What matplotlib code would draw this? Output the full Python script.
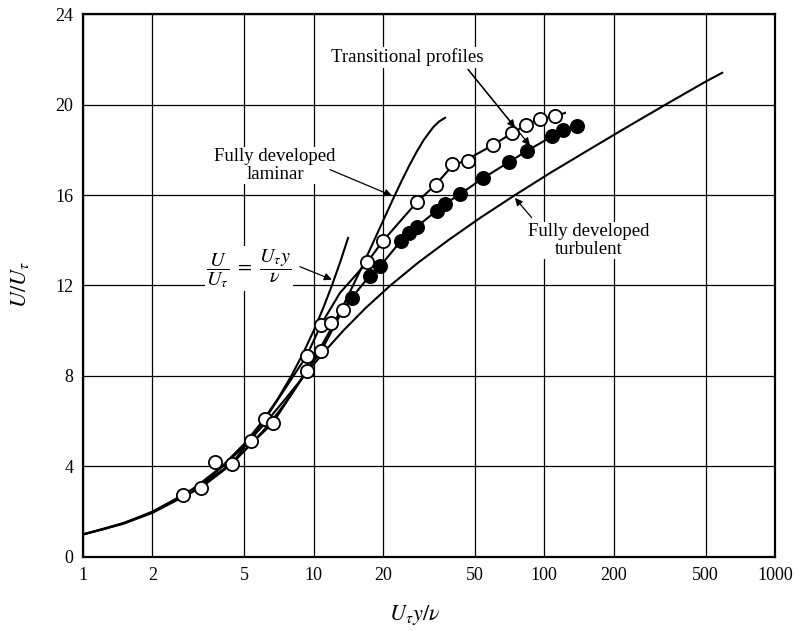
import numpy as np
import matplotlib.pyplot as plt
from matplotlib.ticker import NullLocator

plt.rcParams['font.family'] = ['Liberation Serif', 'DejaVu Serif']
plt.rcParams['mathtext.fontset'] = 'stix'

# axis ticks
x_ticks = [1, 2, 5, 10, 20, 50, 100, 200, 500, 1000]
y_ticks = [0, 4, 8, 12, 16, 20, 24]

# U/U_tau = U_tau y / nu
visc_x = [1, 1.25, 1.5, 1.75, 2, 2.5, 3, 4, 5, 6, 7, 8, 9, 10, 11, 12, 13, 14.1]
visc_y = [1, 1.25, 1.5, 1.75, 2, 2.5, 3, 4, 5, 6, 7, 8, 9, 10, 11, 12, 13, 14.1]

# fully developed laminar
lam_x = [1, 1.5, 2, 3, 4, 5, 6, 7, 8, 9, 10, 12, 14, 16, 18, 20, 22, 24, 26, 28, 30, 33, 35, 37.1]
lam_y = [0.99, 1.47, 1.95, 2.88, 3.79, 4.68, 5.54, 6.37, 7.18, 7.96, 8.72, 10.15, 11.48,
         12.71, 13.84, 14.86, 15.78, 16.6, 17.31, 17.92, 18.43, 19.0, 19.25, 19.41]

# fully developed turbulent
turb_x = [1.0, 1.5, 2.0, 3.01, 4.04, 5.12, 6.27, 7.56, 9.08, 10.97, 13.43, 16.78, 21.5,
          28.3, 38.3, 52.9, 74.7, 107, 156, 228, 336, 498, 590]
turb_y = [1, 1.5, 2, 3, 4, 5, 6, 7, 8, 9, 10, 11, 12, 13, 14, 15, 16, 17, 18, 19, 20, 21, 21.4]

# transitional profiles, measured points
open_x = [2.72, 3.25, 3.75, 4.41, 5.35, 6.15, 6.64, 9.33, 9.33, 10.8, 10.8, 11.85, 13.4,
          17.1, 19.9, 28.0, 33.8, 39.6, 46.8, 59.7, 72.1, 83.5, 95.7, 111]
open_y = [2.74, 3.07, 4.22, 4.10, 5.13, 6.09, 5.91, 8.89, 8.23, 9.12, 10.27, 10.34, 10.93,
          13.04, 13.95, 15.68, 16.46, 17.35, 17.52, 18.2, 18.72, 19.1, 19.38, 19.47]
fill_x = [14.6, 17.5, 19.4, 23.8, 26.0, 28.0, 34.1, 37.0, 43.3, 54.0, 70.1, 84.0, 108.5, 121, 138]
fill_y = [11.45, 12.43, 12.85, 13.95, 14.3, 14.6, 15.3, 15.6, 16.05, 16.73, 17.45, 17.95,
          18.6, 18.88, 19.05]

# faired curves through the transitional points
upper_x = [2.72, 4.41, 6.15, 9.33, 10.8, 13.0, 17.1, 19.9, 28.0, 33.8, 39.6, 46.8, 59.7,
           72.1, 83.5, 95.7, 111, 123]
upper_y = [2.74, 4.10, 6.09, 8.89, 10.3, 11.67, 13.04, 13.95, 15.68, 16.46, 17.25, 17.6,
           18.2, 18.72, 19.1, 19.38, 19.47, 19.63]
lower_x = [3.25, 4.41, 5.35, 6.64, 9.33, 10.8, 11.85, 13.4, 14.6, 17.5, 19.4, 23.8, 26.0,
           28.0, 34.1, 37.0, 43.3, 54.0, 70.1, 84.0, 108.5, 121, 138]
lower_y = [3.07, 4.10, 5.0, 5.91, 8.23, 9.12, 9.9, 10.93, 11.45, 12.43, 12.85, 13.95, 14.3,
           14.6, 15.3, 15.6, 16.05, 16.73, 17.45, 17.95, 18.6, 18.88, 19.05]

fig = plt.figure(figsize=(7.97, 6.31), dpi=100)
ax = fig.add_axes([0.1041, 0.1173, 0.8683, 0.8605])
ax.set_xscale('log')
ax.set_xlim(1, 1000)
ax.set_ylim(0, 24)
ax.set_xticks(x_ticks)
ax.set_xticklabels([str(v) for v in x_ticks])
ax.xaxis.set_minor_locator(NullLocator())
ax.set_yticks(y_ticks)
ax.tick_params(length=0, labelsize=13, pad=7)
ax.set_axisbelow(True)
ax.grid(True, color='black', linewidth=0.9)
for s in ax.spines.values():
    s.set_linewidth(1.6)

lw = 1.5
ax.plot(visc_x, visc_y, color='black', lw=lw, zorder=2)
ax.plot(lam_x, lam_y, color='black', lw=lw, zorder=2)
ax.plot(turb_x, turb_y, color='black', lw=lw, zorder=2)
ax.plot(upper_x, upper_y, color='black', lw=lw, zorder=2)
ax.plot(lower_x, lower_y, color='black', lw=lw, zorder=2)
ax.plot(open_x, open_y, 'o', ms=9.5, mfc='white', mec='black', mew=1.3, zorder=3)
ax.plot(fill_x, fill_y, 'o', ms=9.5, mfc='black', mec='black', mew=1.3, zorder=3)

box = dict(facecolor='white', edgecolor='none', pad=1)
fs = 13.5
ax.text(25.5, 22.08, 'Transitional profiles', ha='center', va='center', fontsize=fs,
        bbox=box, zorder=1)
ax.text(6.8, 17.3, 'Fully developed\nlaminar', ha='center', va='center', fontsize=fs,
        linespacing=1.05, bbox=box, zorder=1)
ax.text(156, 13.98, 'Fully developed\nturbulent', ha='center', va='center', fontsize=fs,
        linespacing=1.05, bbox=box, zorder=1)
ax.text(5.24, 12.75, r'$\dfrac{U}{U_\tau}\ =\ \dfrac{U_\tau y}{\nu}$', ha='center',
        va='center', fontsize=14.5, bbox=box, zorder=1)

arrow = dict(arrowstyle='-|>', color='black', lw=0.9, mutation_scale=11, shrinkA=0, shrinkB=0)
ax.annotate('', xy=(74.6, 18.98), xytext=(46.7, 21.55), arrowprops=arrow)
ax.annotate('', xy=(86.6, 18.19), xytext=(46.7, 21.55), arrowprops=arrow)
ax.annotate('', xy=(21.85, 15.97), xytext=(11.77, 17.12), arrowprops=arrow)
ax.annotate('', xy=(12.0, 12.26), xytext=(8.72, 12.83), arrowprops=arrow)
ax.annotate('', xy=(74.6, 15.87), xytext=(88.1, 15.0), arrowprops=arrow)

fig.text(20 / 797, 1 - 285 / 631, r'$U/U_\tau$', rotation=90, ha='center', va='center',
         fontsize=16)
fig.text(415 / 797, 1 - 615 / 631, r'$U_\tau y/\nu$', ha='center', va='center', fontsize=16)

fig.savefig('out.png', dpi=100)
